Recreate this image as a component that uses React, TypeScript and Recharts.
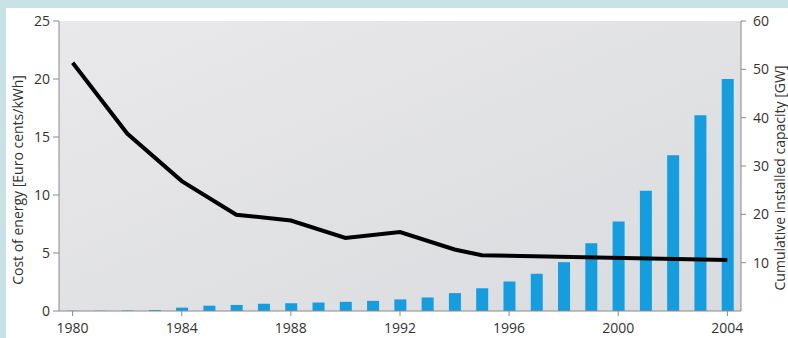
import React from 'react';
import { ComposedChart, Bar, Line, XAxis, YAxis, CartesianGrid } from 'recharts';

// years on the category axis
const YEARS = [
  1980, 1981, 1982, 1983, 1984, 1985, 1986, 1987, 1988, 1989, 1990, 1991, 1992,
  1993, 1994, 1995, 1996, 1997, 1998, 1999, 2000, 2001, 2002, 2003, 2004,
];

// cumulative installed capacity [GW], right axis
const CAPACITY = [
  0.05, 0.05, 0.1, 0.2, 0.7, 1.1, 1.25, 1.5, 1.6, 1.75, 1.9, 2.1, 2.4,
  2.8, 3.7, 4.7, 6.1, 7.7, 10.1, 14.0, 18.5, 24.9, 32.2, 40.5, 48.0,
];

// cost of energy [Euro cents/kWh], left axis (null = no reading, line joins across)
const COST: (number | null)[] = [
  21.4, null, 15.3, null, 11.2, null, 8.3, null, 7.8, null, 6.3, null, 6.8,
  null, 5.3, 4.8, null, null, null, null, null, null, null, null, 4.4,
];

const LEFT_TICKS = [0, 5, 10, 15, 20, 25];
const RIGHT_TICKS = [10, 20, 30, 40, 50, 60];

const data = YEARS.map((year, i) => ({ year, capacity: CAPACITY[i], cost: COST[i] }));

const FONT = '"Open Sans", "DejaVu Sans", sans-serif';
const tickStyle = { fontSize: 14, fill: '#333', fontFamily: FONT };
const AXIS = '#8a8a8a';

const App: React.FC = () => {
  return (
    <div style={{ position: 'absolute', left: 0, top: 0, width: 788, height: 338, background: '#c9e2e5', overflow: 'hidden' }}>
      <div style={{ position: 'absolute', left: 6, top: 8, right: 0, bottom: 0, background: '#fff' }} />
      <div style={{ position: 'absolute', left: 0, top: 0 }}>
        <ComposedChart width={788} height={338} data={data} margin={{ top: 21, right: 0, bottom: 0, left: 0 }} barCategoryGap={0}>
          <defs>
            <linearGradient id="plotBg" x1="0" y1="0" x2="1" y2="1">
              <stop offset="0%" stopColor="#e9e9eb" />
              <stop offset="100%" stopColor="#dadbde" />
            </linearGradient>
          </defs>
          <CartesianGrid horizontal={false} vertical={false} fill="url(#plotBg)" />
          <XAxis
            dataKey="year"
            interval={3}
            height={27}
            tick={tickStyle}
            tickSize={5}
            tickMargin={7}
            stroke={AXIS}
            tickLine={{ stroke: AXIS }}
          />
          <YAxis
            yAxisId="left"
            width={59}
            domain={[0, 25]}
            ticks={LEFT_TICKS}
            tick={tickStyle}
            tickSize={6}
            tickMargin={3}
            stroke={AXIS}
          />
          <YAxis
            yAxisId="right"
            orientation="right"
            width={47}
            domain={[0, 60]}
            ticks={RIGHT_TICKS}
            tick={tickStyle}
            tickSize={5}
            tickMargin={7}
            stroke={AXIS}
          />
          <Bar yAxisId="right" dataKey="capacity" fill="#149ddf" barSize={12} isAnimationActive={false} />
          <Line
            yAxisId="left"
            type="linear"
            dataKey="cost"
            stroke="#000"
            strokeWidth={4}
            dot={false}
            connectNulls
            isAnimationActive={false}
          />
        </ComposedChart>
      </div>
      <svg width={788} height={338} style={{ position: 'absolute', left: 0, top: 0, pointerEvents: 'none' }}>
        <text x={17} y={180} transform="rotate(-90 17 180)" textAnchor="middle" dominantBaseline="central" fontSize={14} fill="#333" fontFamily={FONT}>
          Cost of energy [Euro cents/kWh]
        </text>
        <text x={779} y={178} transform="rotate(-90 779 178)" textAnchor="middle" dominantBaseline="central" fontSize={14} fill="#333" fontFamily={FONT}>
          Cumulative installed capacity [GW]
        </text>
      </svg>
    </div>
  );
};

export default App;
